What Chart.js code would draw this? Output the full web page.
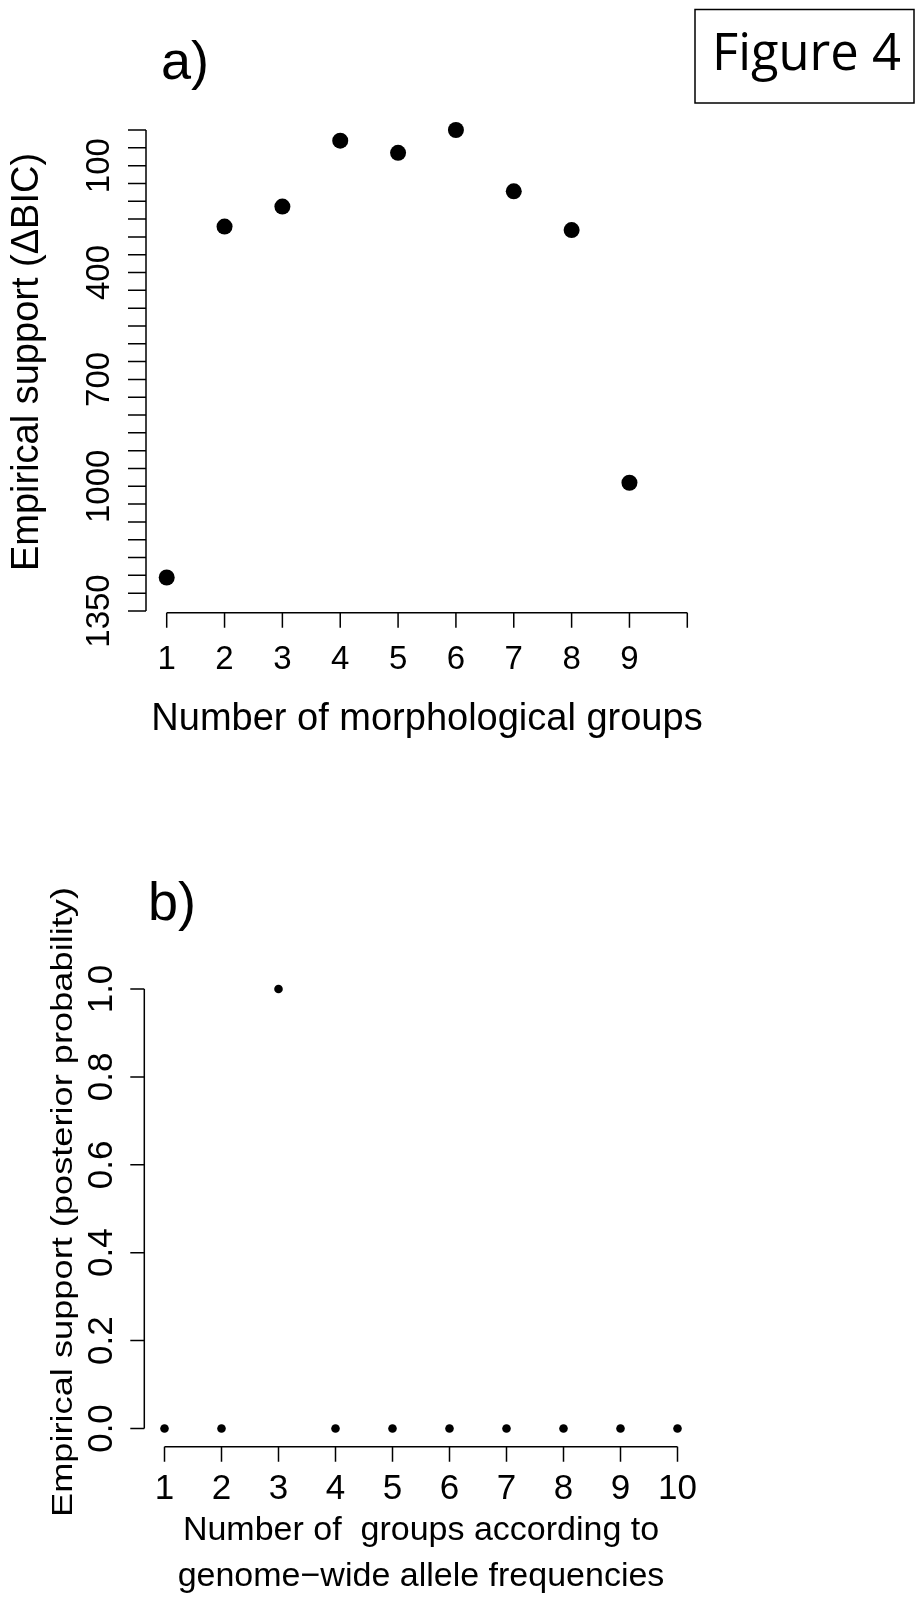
<!DOCTYPE html>
<html>
<head>
<meta charset="utf-8">
<script src="https://cdn.jsdelivr.net/npm/chart.js@4.4.1/dist/chart.umd.min.js"></script>
<style>
  html, body { margin: 0; padding: 0; background: #fff; }
  body { width: 916px; height: 1598px; position: relative; overflow: hidden; }
  canvas { position: absolute; left: 0; }
  #chartA { top: 0; }
  #chartB { top: 800px; }
</style>
</head>
<body>
<canvas id="chartA" width="916" height="800"></canvas>
<canvas id="chartB" width="916" height="798"></canvas>
<script>
// panel a) morphological groups vs delta BIC
const groupsA = [1, 2, 3, 4, 5, 6, 7, 8, 9];
const deltaBic = [1256, 271, 215, 30, 64, 0, 172, 281, 990];
const xTicksA = [1, 2, 3, 4, 5, 6, 7, 8, 9, 10];
const xLabelsA = ['1', '2', '3', '4', '5', '6', '7', '8', '9', ''];
const yTicksA = [0, 50, 100, 150, 200, 250, 300, 350, 400, 450, 500, 550, 600, 650,
  700, 750, 800, 850, 900, 950, 1000, 1050, 1100, 1150, 1200, 1250, 1300, 1350];
const yLabelsA = [100, 400, 700, 1000, 1350];

// panel b) genetic groups vs posterior probability
const groupsB = [1, 2, 3, 4, 5, 6, 7, 8, 9, 10];
const posteriorProb = [0, 0, 1, 0, 0, 0, 0, 0, 0, 0];
const xTicksB = [1, 2, 3, 4, 5, 6, 7, 8, 9, 10];
const xLabelsB = ['1', '2', '3', '4', '5', '6', '7', '8', '9', '10'];
const yTicksB = [0, 0.2, 0.4, 0.6, 0.8, 1.0];
const yLabelsB = ['0.0', '0.2', '0.4', '0.6', '0.8', '1.0'];

const FONT = '"Liberation Sans", Arial, Helvetica, sans-serif';

// draws R-like axes (line spans first..last tick, ticks outside, labels parallel)
function rAxesPlugin(cfg) {
  return {
    id: 'rAxes',
    afterDraw(chart) {
      const ctx = chart.ctx;
      const xs = chart.scales.x;
      const ys = chart.scales.y;
      ctx.save();
      ctx.strokeStyle = '#000';
      ctx.fillStyle = '#000';
      ctx.lineWidth = 1.5;

      // x axis
      const ay = cfg.xAxisY;
      ctx.beginPath();
      ctx.moveTo(xs.getPixelForValue(cfg.xTicks[0]), ay);
      ctx.lineTo(xs.getPixelForValue(cfg.xTicks[cfg.xTicks.length - 1]), ay);
      cfg.xTicks.forEach((v) => {
        const px = xs.getPixelForValue(v);
        ctx.moveTo(px, ay);
        ctx.lineTo(px, ay + cfg.xTickLen);
      });
      ctx.stroke();
      ctx.font = cfg.tickFont + 'px ' + FONT;
      ctx.textAlign = 'center';
      ctx.textBaseline = 'alphabetic';
      cfg.xTicks.forEach((v, i) => {
        ctx.fillText(cfg.xLabels[i], xs.getPixelForValue(v), cfg.xLabelBase);
      });

      // y axis
      const ax = cfg.yAxisX;
      ctx.beginPath();
      ctx.moveTo(ax, ys.getPixelForValue(cfg.yTicks[0]));
      ctx.lineTo(ax, ys.getPixelForValue(cfg.yTicks[cfg.yTicks.length - 1]));
      cfg.yTicks.forEach((v) => {
        const py = ys.getPixelForValue(v);
        ctx.moveTo(ax, py);
        ctx.lineTo(ax - cfg.yTickLen, py);
      });
      ctx.stroke();
      cfg.yLabelAt.forEach((v, i) => {
        ctx.save();
        ctx.translate(cfg.yLabelBase, ys.getPixelForValue(v));
        ctx.rotate(-Math.PI / 2);
        ctx.fillText(cfg.yLabels[i], 0, 0);
        ctx.restore();
      });

      // titles
      ctx.font = cfg.titleFont + 'px ' + FONT;
      cfg.xTitle.forEach((line, i) => {
        ctx.fillText(line, cfg.xTitleX, cfg.xTitleBase[i]);
      });
      ctx.save();
      ctx.font = cfg.yTitleFont + 'px ' + FONT;
      ctx.translate(cfg.yTitleBase, cfg.yTitleY);
      ctx.rotate(-Math.PI / 2);
      if (cfg.yTitleLength) {
        const w = ctx.measureText(cfg.yTitle).width;
        ctx.scale(cfg.yTitleLength / w, 1);
      }
      ctx.fillText(cfg.yTitle, 0, 0);
      ctx.restore();

      // panel letter
      ctx.font = '54px ' + FONT;
      ctx.textAlign = 'left';
      ctx.fillText(cfg.letter, cfg.letterX, cfg.letterY);

      if (cfg.extra) cfg.extra(ctx);
      ctx.restore();
    },
  };
}

function figureBox(ctx) {
  ctx.lineWidth = 1.5;
  ctx.strokeRect(695, 9.5, 219, 93.5);
  const fam = '"Open Sans", "Noto Sans", sans-serif';
  ctx.font = '100px ' + fam;
  const w = ctx.measureText('Figure 4').width;
  const size = 100 * 189 / w;
  ctx.font = size.toFixed(1) + 'px ' + fam;
  ctx.textAlign = 'left';
  ctx.textBaseline = 'alphabetic';
  ctx.fillText('Figure 4', 712, 70);
}

function baseOptions(pad, xRange, yRange, reverse) {
  return {
    responsive: false,
    animation: false,
    devicePixelRatio: 1,
    layout: { padding: pad },
    plugins: { legend: { display: false }, tooltip: { enabled: false } },
    scales: {
      x: { type: 'linear', display: false, min: xRange[0], max: xRange[1] },
      y: { type: 'linear', display: false, min: yRange[0], max: yRange[1], reverse: reverse },
    },
  };
}

new Chart(document.getElementById('chartA'), {
  type: 'scatter',
  data: {
    datasets: [{
      data: groupsA.map((g, i) => ({ x: g, y: deltaBic[i] })),
      backgroundColor: '#000',
      borderWidth: 0,
      pointRadius: 8,
      clip: false,
    }],
  },
  options: baseOptions({ left: 166.7, right: 228.7, top: 130, bottom: 189 }, [1, 10], [0, 1350], true),
  plugins: [rAxesPlugin({
    xTicks: xTicksA, xLabels: xLabelsA, xAxisY: 612.7, xTickLen: 15, xLabelBase: 669.4,
    yTicks: yTicksA, yLabelAt: yLabelsA, yLabels: yLabelsA.map(String), yAxisX: 146, yTickLen: 18,
    yLabelBase: 109, tickFont: 33, titleFont: 38,
    xTitle: ['Number of morphological groups'], xTitleX: 427, xTitleBase: [729.6],
    yTitle: 'Empirical support (\u0394BIC)', yTitleFont: 38, yTitleBase: 38, yTitleY: 362,
    letter: 'a)', letterX: 161, letterY: 79.3,
    extra: figureBox,
  })],
});

new Chart(document.getElementById('chartB'), {
  type: 'scatter',
  data: {
    datasets: [{
      data: groupsB.map((g, i) => ({ x: g, y: posteriorProb[i] })),
      backgroundColor: '#000',
      borderWidth: 0,
      pointRadius: 4.3,
      clip: false,
    }],
  },
  options: baseOptions({ left: 164.5, right: 238.5, top: 189, bottom: 169.5 }, [1, 10], [0, 1], false),
  plugins: [rAxesPlugin({
    xTicks: xTicksB, xLabels: xLabelsB, xAxisY: 646.7, xTickLen: 15, xLabelBase: 698.5,
    yTicks: yTicksB, yLabelAt: yTicksB, yLabels: yLabelsB, yAxisX: 144.3, yTickLen: 14,
    yLabelBase: 112, tickFont: 35, titleFont: 34,
    xTitle: ['Number of  groups according to', 'genome\u2212wide allele frequencies'],
    xTitleX: 421, xTitleBase: [740, 786],
    yTitle: 'Empirical support (posterior probability)', yTitleFont: 30, yTitleLength: 630,
    yTitleBase: 72, yTitleY: 402,
    letter: 'b)', letterX: 148, letterY: 120,
  })],
});
</script>
</body>
</html>
